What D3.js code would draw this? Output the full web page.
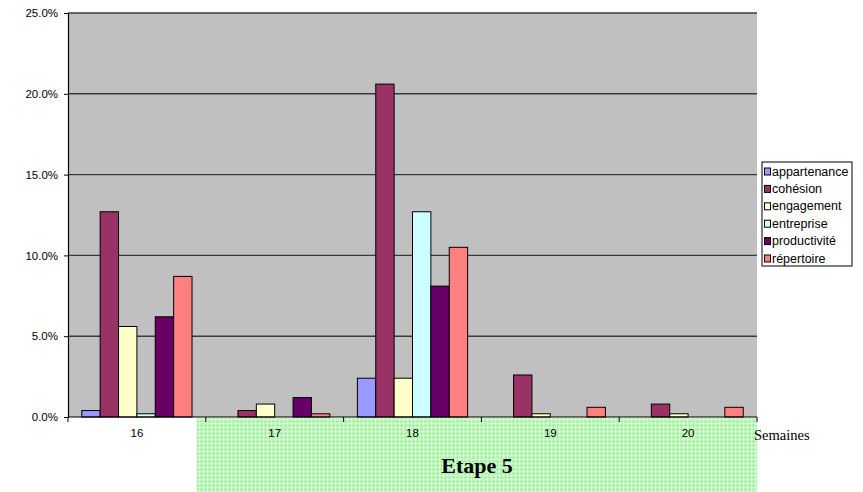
<!DOCTYPE html>
<html>
<head>
<meta charset="utf-8">
<script src="https://cdn.jsdelivr.net/npm/d3@7"></script>
<style>
  html, body { margin: 0; padding: 0; background: #fff; }
  svg { display: block; }
</style>
</head>
<body>
<svg id="chart" width="863" height="492"></svg>
<script>
// Weeks on the x axis
const weeks = ["16", "17", "18", "19", "20"];
// Themes (one bar per theme within each week)
const themes = ["appartenance", "cohésion", "engagement", "entreprise", "productivité", "répertoire"];
const themeColors = ["#9999FF", "#993366", "#FFFFCC", "#CCFFFF", "#660066", "#FF8080"];
// Share of mentions per theme, one value per week
const appartenance = [0.004, 0.000, 0.024, 0.000, 0.000];
const cohesion     = [0.127, 0.004, 0.206, 0.026, 0.008];
const engagement   = [0.056, 0.008, 0.024, 0.002, 0.002];
const entreprise   = [0.002, 0.000, 0.127, 0.000, 0.000];
const productivite = [0.062, 0.012, 0.081, 0.000, 0.000];
const repertoire   = [0.087, 0.002, 0.105, 0.006, 0.006];
const seriesValues = [appartenance, cohesion, engagement, entreprise, productivite, repertoire];
const yTicks = [0, 0.05, 0.10, 0.15, 0.20, 0.25];
const xTitle = "Semaines";
const chartTitle = "Etape 5";

const svg = d3.select("#chart");
const plot = { left: 68, right: 757, top: 13, bottom: 417 };

const x = d3.scaleBand().domain(weeks).range([plot.left, plot.right]).padding(0);
const xInner = d3.scaleBand().domain(themes).range([0, x.bandwidth()])
  .paddingInner(0).paddingOuter(0.75);
const y = d3.scaleLinear().domain([0, 0.25]).range([plot.bottom, plot.top]);
const color = d3.scaleOrdinal().domain(themes).range(themeColors);

// Dotted light-green pattern behind the title area
const defs = svg.append("defs");
const pat = defs.append("pattern").attr("id", "greenHatch")
  .attr("width", 4).attr("height", 4).attr("patternUnits", "userSpaceOnUse");
pat.append("rect").attr("width", 4).attr("height", 4).attr("fill", "#c8f8c6");
[[1, 0], [0, 1], [1, 1], [2, 1], [1, 2]].forEach(([px, py]) =>
  pat.append("rect").attr("x", px).attr("y", py).attr("width", 1).attr("height", 1).attr("fill", "#a2f2a0"));
[[3, 3]].forEach(([px, py]) =>
  pat.append("rect").attr("x", px).attr("y", py).attr("width", 1).attr("height", 1).attr("fill", "#eefdee"));

svg.append("rect")
  .attr("x", x("17") - 9).attr("y", plot.bottom + 1)
  .attr("width", plot.right - (x("17") - 9)).attr("height", 492 - plot.bottom - 1)
  .attr("fill", "url(#greenHatch)");

// Plot background
svg.append("rect")
  .attr("x", plot.left).attr("y", plot.top)
  .attr("width", plot.right - plot.left).attr("height", plot.bottom - plot.top)
  .attr("fill", "#C0C0C0");

// Horizontal gridlines
svg.append("g").selectAll("line").data(yTicks.filter(d => d > 0)).join("line")
  .attr("x1", plot.left).attr("x2", plot.right)
  .attr("y1", d => y(d)).attr("y2", d => y(d))
  .attr("stroke", "#3a3a3a").attr("stroke-width", 1.4);

// Bars
const rows = [];
weeks.forEach((w, i) => themes.forEach((t, j) => rows.push({ week: w, theme: t, value: seriesValues[j][i] })));
svg.append("g").selectAll("rect").data(rows.filter(d => d.value > 0)).join("rect")
  .attr("x", d => x(d.week) + xInner(d.theme))
  .attr("y", d => y(d.value))
  .attr("width", xInner.bandwidth())
  .attr("height", d => y(0) - y(d.value))
  .attr("fill", d => color(d.theme))
  .attr("stroke", "#000").attr("stroke-width", 1);

// Y axis
const yAxis = d3.axisLeft(y).tickValues(yTicks).tickFormat(d3.format(".1%")).tickSize(4).tickPadding(6);
const gy = svg.append("g").attr("transform", `translate(${plot.left},0)`).call(yAxis);
gy.select(".domain").attr("stroke", "#000").attr("stroke-width", 1.2);
gy.selectAll(".tick line").attr("stroke", "#000");
gy.selectAll("text").attr("font-family", "Liberation Sans, Arial, sans-serif")
  .attr("font-size", 11.5).attr("fill", "#000");

// X axis: ticks at the category boundaries, labels centred in each band
const gx = svg.append("g").attr("transform", `translate(0,${plot.bottom})`);
gx.append("line").attr("x1", plot.left).attr("x2", plot.right)
  .attr("stroke", "#000").attr("stroke-width", 1.2);
const boundaries = weeks.map(w => x(w)).concat([plot.right]);
gx.selectAll("line.tk").data(boundaries).join("line").attr("class", "tk")
  .attr("x1", d => d).attr("x2", d => d).attr("y1", 0).attr("y2", 5)
  .attr("stroke", "#000");
gx.selectAll("text").data(weeks).join("text")
  .attr("x", d => x(d) + x.bandwidth() / 2).attr("y", 20)
  .attr("text-anchor", "middle")
  .attr("font-family", "Liberation Sans, Arial, sans-serif").attr("font-size", 11.5)
  .text(d => d);

// Axis title and chart title
svg.append("text").attr("x", plot.right - 3).attr("y", 440)
  .attr("font-family", "Liberation Serif, Times New Roman, serif").attr("font-size", 14.5)
  .text(xTitle);
svg.append("text").attr("x", 477).attr("y", 473).attr("text-anchor", "middle")
  .attr("font-family", "Liberation Serif, Times New Roman, serif").attr("font-size", 22)
  .attr("font-weight", "bold").text(chartTitle);

// Legend
const lg = svg.append("g").attr("transform", "translate(762,162)");
lg.append("rect").attr("width", 90).attr("height", 104)
  .attr("fill", "#fff").attr("stroke", "#000").attr("stroke-width", 1);
const item = lg.selectAll("g.item").data(themes).join("g").attr("class", "item")
  .attr("transform", (d, i) => `translate(0,${9.5 + i * 17.4})`);
item.append("rect").attr("x", 2.5).attr("y", -3.5).attr("width", 6).attr("height", 7)
  .attr("fill", d => color(d)).attr("stroke", "#000").attr("stroke-width", 1);
item.append("text").attr("x", 10).attr("y", 4)
  .attr("font-family", "Liberation Sans, Arial, sans-serif").attr("font-size", 12.5)
  .text(d => d);
</script>
</body>
</html>
